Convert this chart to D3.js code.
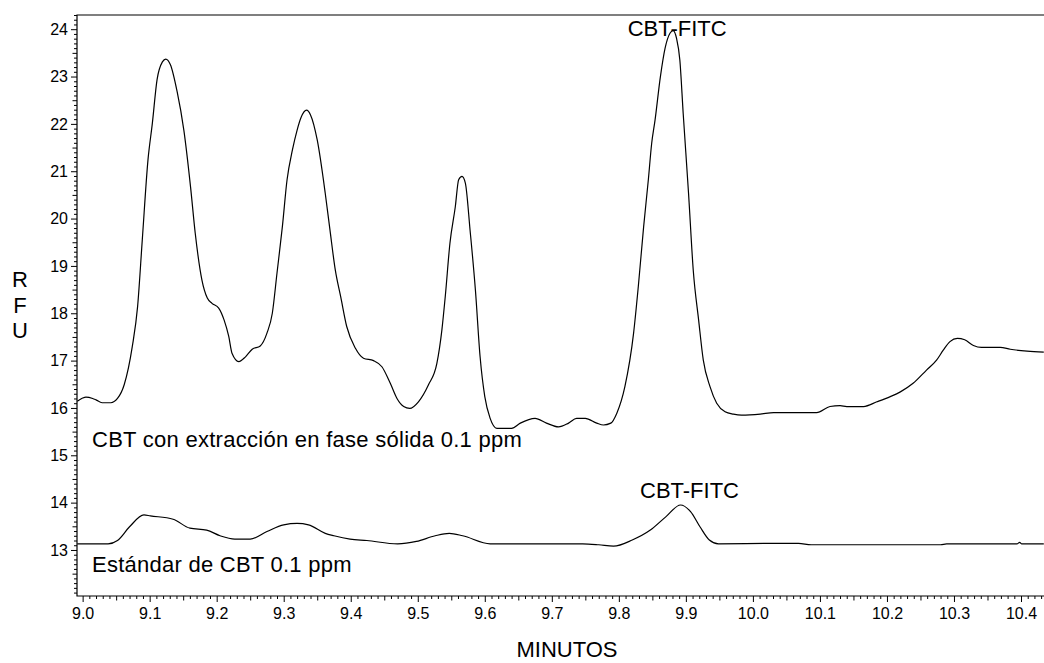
<!DOCTYPE html>
<html>
<head>
<meta charset="utf-8">
<script src="https://cdn.jsdelivr.net/npm/d3@7"></script>
<style>
  html, body { margin: 0; padding: 0; background: #fff; }
  svg text { font-family: "Liberation Sans", Arial, Helvetica, sans-serif; fill: #000; }
</style>
</head>
<body>
<svg id="chart" width="1044" height="663"></svg>
<script>
// Electropherogram traces: time (min) and fluorescence (RFU)
const spetTime = [8.992, 9.000, 9.005, 9.015, 9.020, 9.029, 9.042, 9.052, 9.062, 9.074, 9.082, 9.089, 9.0975, 9.104, 9.111, 9.119, 9.124, 9.131, 9.141, 9.151, 9.161, 9.168, 9.178, 9.186, 9.193, 9.203, 9.211, 9.218, 9.223, 9.233, 9.243, 9.253, 9.265, 9.275, 9.283, 9.290, 9.298, 9.305, 9.313, 9.320, 9.326, 9.334, 9.340, 9.350, 9.362, 9.369, 9.377, 9.385, 9.394, 9.407, 9.419, 9.434, 9.4465, 9.459, 9.469, 9.479, 9.488, 9.501, 9.516, 9.5285, 9.536, 9.541, 9.548, 9.556, 9.561, 9.566, 9.571, 9.578, 9.586, 9.593, 9.600, 9.608, 9.618, 9.640, 9.653, 9.675, 9.692, 9.710, 9.725, 9.737, 9.750, 9.767, 9.777, 9.788, 9.797, 9.809, 9.822, 9.829, 9.837, 9.844, 9.849, 9.854, 9.862, 9.869, 9.8765, 9.881, 9.886, 9.891, 9.896, 9.904, 9.911, 9.919, 9.926, 9.936, 9.946, 9.9585, 9.971, 9.983, 10.011, 10.031, 10.095, 10.115, 10.130, 10.140, 10.165, 10.185, 10.205, 10.220, 10.239, 10.259, 10.274, 10.284, 10.294, 10.305, 10.316, 10.329, 10.341, 10.369, 10.384, 10.409, 10.434];
const spetRFU = [16.14, 16.21, 16.23, 16.20, 16.17, 16.11, 16.11, 16.20, 16.49, 17.29, 18.14, 19.55, 21.24, 22.01, 22.93, 23.31, 23.37, 23.25, 22.68, 21.87, 20.67, 19.69, 18.70, 18.32, 18.21, 18.11, 17.86, 17.51, 17.15, 16.98, 17.08, 17.24, 17.31, 17.58, 18.00, 18.85, 19.83, 20.82, 21.45, 21.87, 22.14, 22.29, 22.19, 21.66, 20.53, 19.76, 18.91, 18.35, 17.72, 17.26, 17.05, 17.00, 16.87, 16.52, 16.20, 16.03, 15.99, 16.13, 16.49, 16.94, 17.65, 18.35, 19.48, 20.25, 20.82, 20.89, 20.75, 19.76, 18.49, 17.08, 16.24, 15.78, 15.57, 15.57, 15.68, 15.78, 15.68, 15.60, 15.68, 15.78, 15.78, 15.68, 15.64, 15.68, 15.89, 16.45, 17.58, 18.56, 19.83, 20.82, 21.59, 22.08, 23.00, 23.60, 23.92, 23.97, 23.81, 23.35, 22.22, 20.53, 18.91, 17.86, 17.01, 16.45, 16.10, 15.92, 15.87, 15.85, 15.87, 15.90, 15.90, 16.03, 16.05, 16.03, 16.03, 16.13, 16.24, 16.34, 16.52, 16.80, 17.01, 17.22, 17.40, 17.47, 17.44, 17.32, 17.28, 17.28, 17.24, 17.20, 17.18];

const stdTime = [8.992, 9.038, 9.052, 9.070, 9.0915, 9.101, 9.135, 9.160, 9.185, 9.205, 9.227, 9.250, 9.275, 9.300, 9.320, 9.337, 9.362, 9.375, 9.399, 9.424, 9.470, 9.498, 9.526, 9.547, 9.567, 9.608, 9.746, 9.770, 9.792, 9.820, 9.847, 9.870, 9.892, 9.907, 9.921, 9.935, 9.9486, 10.031, 10.068, 10.087, 10.280, 10.289, 10.394, 10.398, 10.401, 10.434];
const stdRFU = [13.13, 13.13, 13.20, 13.49, 13.74, 13.72, 13.65, 13.46, 13.42, 13.30, 13.23, 13.23, 13.39, 13.53, 13.56, 13.53, 13.35, 13.30, 13.23, 13.20, 13.13, 13.18, 13.30, 13.35, 13.30, 13.13, 13.13, 13.11, 13.08, 13.21, 13.42, 13.70, 13.95, 13.81, 13.49, 13.21, 13.13, 13.14, 13.14, 13.11, 13.11, 13.13, 13.13, 13.16, 13.13, 13.13];

// Axis ticks
const xTickValues = [9.0, 9.1, 9.2, 9.3, 9.4, 9.5, 9.6, 9.7, 9.8, 9.9, 10.0, 10.1, 10.2, 10.3, 10.4];
const yTickValues = [13, 14, 15, 16, 17, 18, 19, 20, 21, 22, 23, 24];

// Text
const traceLabels = ["CBT con extracción en fase sólida 0.1 ppm", "Estándar de CBT 0.1 ppm"];
const peakName = "CBT-FITC";
const xTitle = "MINUTOS";
const yTitle = ["R", "F", "U"];

const svg = d3.select("#chart");
const plotLeft = 77, plotRight = 1044, plotTop = 15, plotBottom = 596;

const x = d3.scaleLinear().domain([8.9916, 10.4343]).range([plotLeft, plotRight]);
const y = d3.scaleLinear().domain([12.028, 24.30]).range([plotBottom, plotTop]);

// minor / medium tick sets
const xMinor = d3.range(900, 1044).map(d => d / 100).filter(d => Math.round(d * 100) % 5 !== 0);
const xMid = d3.range(905, 1044, 10).map(d => d / 100);
const yMinor = d3.range(121, 244).map(d => d / 10).filter(d => Math.round(d * 10) % 5 !== 0);
const yMid = d3.range(125, 244, 10).map(d => d / 10);

function plainAxis(axis) {
  return g => { g.call(axis); g.select(".domain").remove(); g.selectAll("line").attr("stroke", "#000").attr("stroke-width", 1); };
}

// x axis
svg.append("g").attr("transform", `translate(0,${plotBottom})`)
  .call(plainAxis(d3.axisBottom(x).tickValues(xMinor).tickSize(3).tickFormat("")));
svg.append("g").attr("transform", `translate(0,${plotBottom})`)
  .call(plainAxis(d3.axisBottom(x).tickValues(xMid).tickSize(4.5).tickFormat("")));
const gx = svg.append("g").attr("transform", `translate(0,${plotBottom})`)
  .call(plainAxis(d3.axisBottom(x).tickValues(xTickValues).tickSize(6).tickPadding(6).tickFormat(d3.format(".1f"))));
gx.selectAll("text").attr("font-size", 16).attr("font-family", "Liberation Sans, Arial, sans-serif");

// y axis
svg.append("g").attr("transform", `translate(${plotLeft},0)`)
  .call(plainAxis(d3.axisLeft(y).tickValues(yMinor).tickSize(3).tickFormat("")));
svg.append("g").attr("transform", `translate(${plotLeft},0)`)
  .call(plainAxis(d3.axisLeft(y).tickValues(yMid).tickSize(4.5).tickFormat("")));
const gy = svg.append("g").attr("transform", `translate(${plotLeft},0)`)
  .call(plainAxis(d3.axisLeft(y).tickValues(yTickValues).tickSize(6).tickPadding(3).tickFormat(d3.format("d"))));
gy.selectAll("text").attr("font-size", 16).attr("font-family", "Liberation Sans, Arial, sans-serif");

// frame: left, bottom, top
svg.append("path")
  .attr("d", `M${plotRight},${plotTop}H${plotLeft}V${plotBottom}H${plotRight}`)
  .attr("fill", "none").attr("stroke", "#000").attr("stroke-width", 1.2);

// traces
const line = d3.line().x(d => x(d[0])).y(d => y(d[1])).curve(d3.curveMonotoneX);
const spet = spetTime.map((t, i) => [t, spetRFU[i]]);
const std = stdTime.map((t, i) => [t, stdRFU[i]]);

svg.append("defs").append("clipPath").attr("id", "plotclip")
  .append("rect").attr("x", plotLeft).attr("y", plotTop).attr("width", plotRight - plotLeft).attr("height", plotBottom - plotTop);

const traces = svg.append("g").attr("clip-path", "url(#plotclip)");
[spet, std].forEach(data => {
  traces.append("path").datum(data).attr("d", line)
    .attr("fill", "none").attr("stroke", "#000").attr("stroke-width", 1.2).attr("stroke-linejoin", "round");
});

// peak annotations at the apex of each CBT-FITC peak
function apex(data, lo, hi) {
  return data.filter(d => d[0] >= lo && d[0] <= hi).reduce((a, b) => (b[1] > a[1] ? b : a));
}
const pkA = apex(spet, 9.8, 10.0);
const pkB = apex(std, 9.8, 10.0);
svg.append("text").attr("x", x(pkA[0]) + 4).attr("y", y(pkA[1]) + 5.5)
  .attr("text-anchor", "middle").attr("font-size", 22).text(peakName);
svg.append("text").attr("x", x(pkB[0]) + 9).attr("y", y(pkB[1]) - 7.5)
  .attr("text-anchor", "middle").attr("font-size", 22).text(peakName);

// trace labels
svg.append("text").attr("x", 92).attr("y", 447).attr("font-size", 22).attr("letter-spacing", 0.27).text(traceLabels[0]);
svg.append("text").attr("x", 92).attr("y", 572).attr("font-size", 22).attr("letter-spacing", 0.25).text(traceLabels[1]);

// axis titles
svg.append("text").attr("x", 567).attr("y", 657).attr("text-anchor", "middle").attr("font-size", 22).text(xTitle);
yTitle.forEach((c, i) => {
  svg.append("text").attr("x", 20).attr("y", 287 + i * 25.5).attr("text-anchor", "middle").attr("font-size", 22).text(c);
});
</script>
</body>
</html>
